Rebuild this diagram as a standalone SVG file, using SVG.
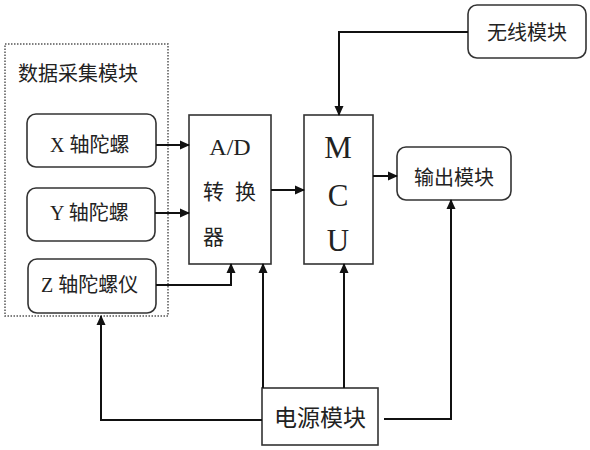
<svg xmlns="http://www.w3.org/2000/svg" width="590" height="450" viewBox="0 0 590 450">
<style>
.box{fill:#fff;stroke:#333;stroke-width:1.6}
.ln{fill:none;stroke:#111;stroke-width:2}
.t{font-family:"Liberation Serif","Noto Sans CJK SC",serif;fill:#222;font-size:20px}
.c{text-anchor:middle}
</style>
<defs>
<marker id="ah" markerWidth="10" markerHeight="10" refX="9" refY="5" orient="auto" markerUnits="userSpaceOnUse">
<path d="M0,0.5 L10,5 L0,9.5 Z" fill="#111"/>
</marker>
</defs>
<rect width="590" height="450" fill="#fff"/>
<g id="acq">
<rect x="5" y="44" width="163" height="272" fill="none" stroke="#555" stroke-width="1.5" stroke-dasharray="1.5,1.5"/>
<text class="t" x="18" y="81">数据采集模块</text>
</g>
<g id="x-gyro">
<rect class="box" x="27" y="114" width="129" height="53" rx="9"/>
<text class="t" x="50" y="152">X 轴陀螺</text>
</g>
<g id="y-gyro">
<rect class="box" x="27" y="188" width="128" height="53" rx="9"/>
<text class="t" x="50" y="220">Y 轴陀螺</text>
</g>
<g id="z-gyro">
<rect class="box" x="28" y="259" width="128" height="54" rx="9"/>
<text class="t" x="41" y="292">Z 轴陀螺仪</text>
</g>
<g id="adc">
<rect class="box" x="189" y="115" width="82" height="149"/>
<text class="t" x="230" y="155" style="font-size:24px" text-anchor="middle">A/D</text>
<text class="t" x="203" y="199" style="font-size:21px">转</text>
<text class="t" x="235" y="199" style="font-size:21px">换</text>
<text class="t" x="203" y="244" style="font-size:21px">器</text>
</g>
<g id="mcu">
<rect class="box" x="304" y="115" width="69" height="149"/>
<text class="t c" x="338" y="158" style="font-size:31px">M</text>
<text class="t c" x="338" y="206" style="font-size:31px">C</text>
<text class="t c" x="338" y="251" style="font-size:31px">U</text>
</g>
<g id="wireless">
<rect class="box" x="468" y="5" width="118" height="53" rx="9"/>
<text class="t c" x="527" y="40">无线模块</text>
</g>
<g id="output">
<rect class="box" x="397" y="147" width="114" height="53" rx="9"/>
<text class="t c" x="454" y="185">输出模块</text>
</g>
<g id="power">
<rect class="box" x="262" y="388" width="116" height="57"/>
<text class="t c" x="320" y="426" style="font-size:23px">电源模块</text>
</g>
<g id="connectors">
<path class="ln" d="M156,145 H189" marker-end="url(#ah)"/>
<path class="ln" d="M155,213 H189" marker-end="url(#ah)"/>
<path class="ln" d="M156,285 H231 V264" marker-end="url(#ah)"/>
<path class="ln" d="M271,190 H304" marker-end="url(#ah)"/>
<path class="ln" d="M468,32 H339 V115" marker-end="url(#ah)"/>
<path class="ln" d="M373,176 H397" marker-end="url(#ah)"/>
<path class="ln" d="M263,388 V264" marker-end="url(#ah)"/>
<path class="ln" d="M344,388 V264" marker-end="url(#ah)"/>
<path class="ln" d="M262,420 H101 V316" marker-end="url(#ah)"/>
<path class="ln" d="M384,419 H451 V200" marker-end="url(#ah)"/>
</g>
</svg>
